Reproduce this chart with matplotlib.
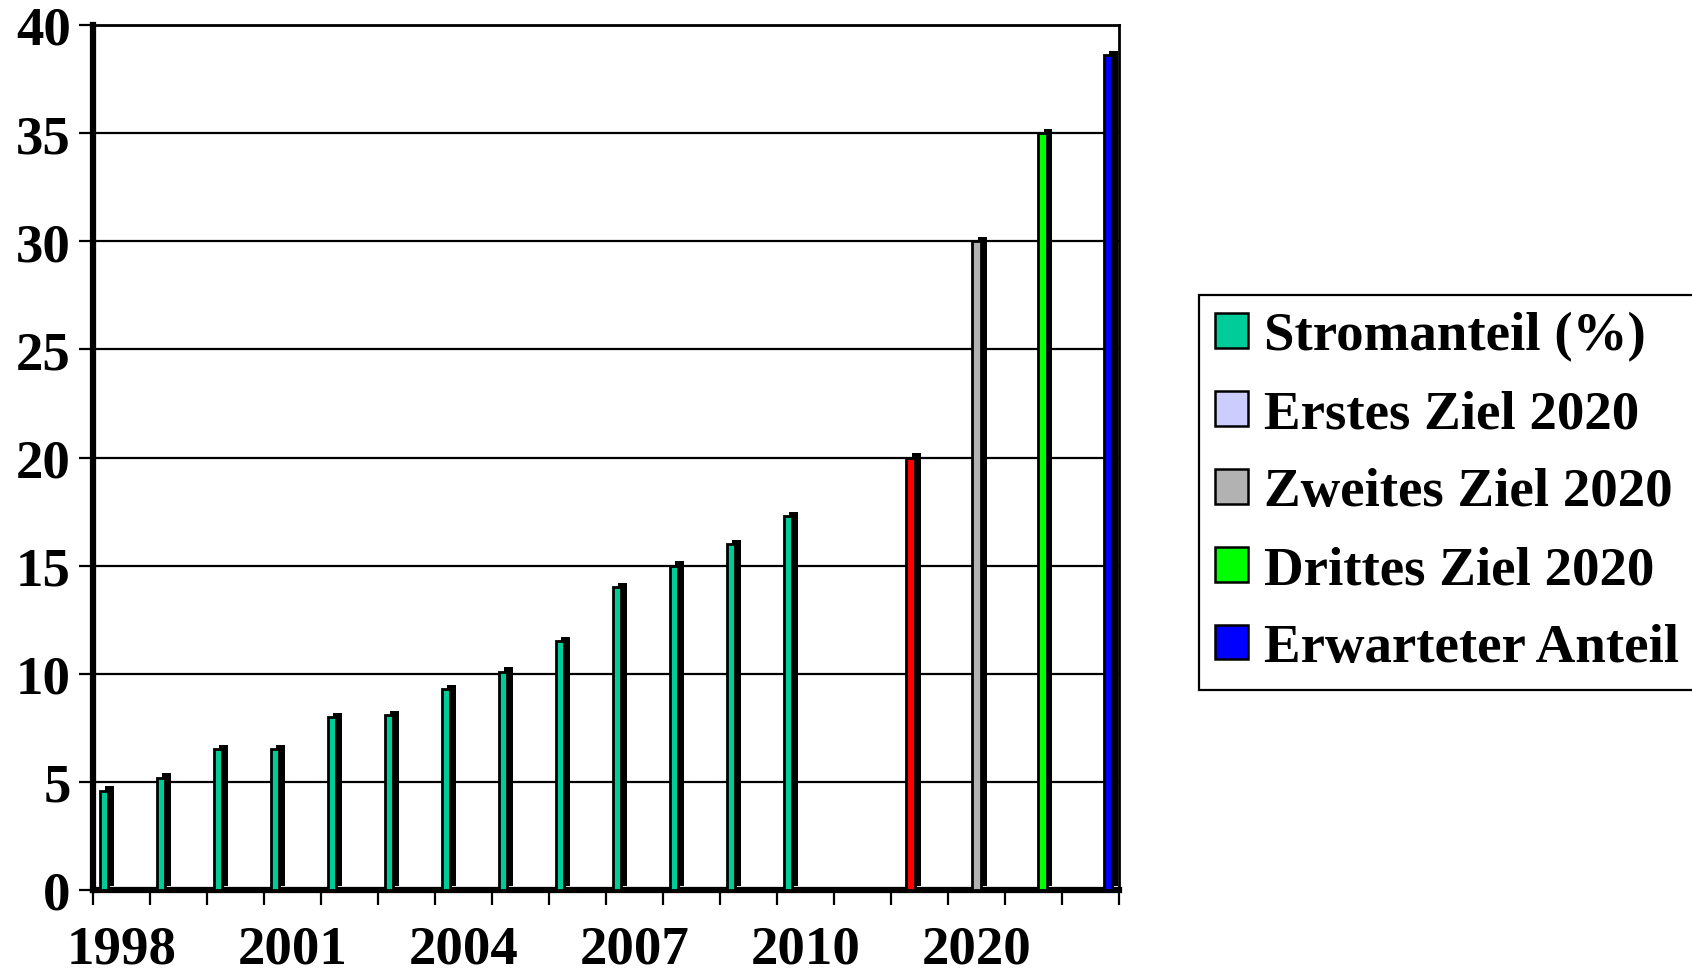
import matplotlib
matplotlib.use("Agg")
import matplotlib.pyplot as plt
import matplotlib.patheffects as pe
from matplotlib.patches import Patch
from matplotlib.font_manager import FontProperties

# Categories on the x axis (only every third label is printed)
categories = ["1998", "1999", "2000", "2001", "2002", "2003", "2004", "2005",
              "2006", "2007", "2008", "2009", "2010", "", "2020", "2020",
              "2020", "2020"]

# Series values (None = no column in that category)
stromanteil = [4.6, 5.2, 6.5, 6.5, 8.0, 8.1, 9.3, 10.1, 11.5, 14.0, 15.0,
               16.0, 17.3, None, None, None, None, None]
erstes_ziel = [None] * 14 + [20, None, None, None]
zweites_ziel = [None] * 15 + [30, None, None]
drittes_ziel = [None] * 16 + [35, None]
erwarteter_anteil = [None] * 17 + [38.6]

series_names = ["Stromanteil (%)", "Erstes Ziel 2020", "Zweites Ziel 2020",
                "Drittes Ziel 2020", "Erwarteter Anteil"]
series_values = [stromanteil, erstes_ziel, zweites_ziel, drittes_ziel,
                 erwarteter_anteil]
bar_colors = ["#00CC99", "#FF0000", "#B2B2B2", "#00FF00", "#0000FF"]
legend_colors = ["#00CC99", "#CCCCFF", "#B2B2B2", "#00FF00", "#0000FF"]

y_ticks = [0, 5, 10, 15, 20, 25, 30, 35, 40]

font = FontProperties(family="Liberation Serif", weight="bold", size=39.5)

W, H = 1692, 979
fig = plt.figure(figsize=(W / 100, H / 100), dpi=100)
ax = fig.add_axes([93 / W, 1 - 891 / H, (1119 - 93) / W, (891 - 26) / H])

# Clustered columns: 5 series per category, gap width 150 %
n_series = len(series_values)
bar_w = 1.0 / (n_series + 1.5)
depth = [pe.SimplePatchShadow(offset=(4.2, 3.0), shadow_rgbFace="black",
                              alpha=1.0), pe.Normal()]
for s, (vals, col) in enumerate(zip(series_values, bar_colors)):
    xs = [i - 0.5 + 0.75 * bar_w + (s + 0.5) * bar_w
          for i, v in enumerate(vals) if v is not None]
    hs = [v for v in vals if v is not None]
    bars = ax.bar(xs, hs, width=bar_w, color=col, edgecolor="black",
                  linewidth=2.0, zorder=3)
    for b in bars:
        b.set_path_effects(depth)

ax.set_xlim(-0.5, len(categories) - 0.5)
ax.set_ylim(0, 40)

# Horizontal gridlines
ax.set_yticks(y_ticks)
ax.yaxis.grid(True, color="black", linewidth=1.6, zorder=1)
ax.set_axisbelow(True)
ax.set_yticklabels([str(t) for t in y_ticks], fontproperties=font)
ax.tick_params(axis="y", length=10, width=1.6, pad=6, direction="out")

# Tick marks on category boundaries, labels on every third category centre
bounds = [i - 0.5 for i in range(len(categories) + 1)]
ax.set_xticks(bounds)
ax.set_xticklabels([])
ax.tick_params(axis="x", which="major", length=11, width=1.6,
               direction="out")
centres = list(range(len(categories)))[::3]
ax.set_xticks(centres, minor=True)
ax.set_xticklabels(categories[::3], minor=True, fontproperties=font)
ax.tick_params(axis="x", which="minor", length=0, pad=25)

for side in ["left", "bottom"]:
    ax.spines[side].set_linewidth(4.5)
for side in ["top", "right"]:
    ax.spines[side].set_linewidth(2.0)

handles = [Patch(facecolor=c, edgecolor="black", linewidth=1.8)
           for c in legend_colors]
leg = fig.legend(handles, series_names, loc="upper left",
                 bbox_to_anchor=(1199 / W, 1 - 296 / H),
                 bbox_transform=fig.transFigure, borderaxespad=0,
                 frameon=True, fancybox=False, framealpha=1,
                 edgecolor="black", prop=font, handlelength=0.6,
                 handleheight=0.6, handletextpad=0.28, labelspacing=0.51,
                 borderpad=0.3)
leg.get_frame().set_linewidth(1.6)

fig.savefig("out.png", dpi=100)
